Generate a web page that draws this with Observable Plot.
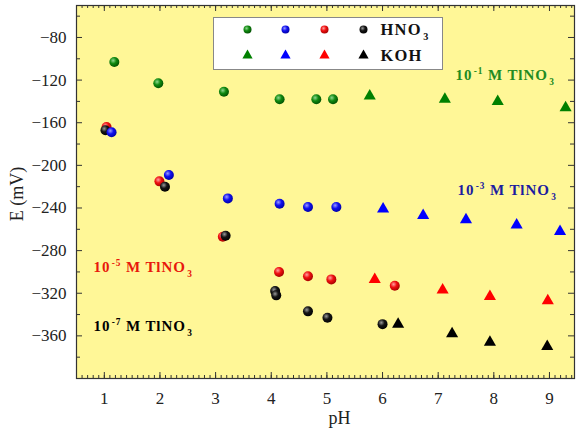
<!DOCTYPE html>
<html><head><meta charset="utf-8">
<script src="https://cdn.jsdelivr.net/npm/d3@7"></script>
<script src="https://cdn.jsdelivr.net/npm/@observablehq/plot@0.6"></script>
<style>body{margin:0;background:#fff}</style>
</head><body><div id="chart"></div>
<script>
// ---- data (pH, E in mV) ----
const pH_HNO3_1 = [1.18, 1.97, 3.15, 4.15, 4.81, 5.11];
const E_HNO3_1  = [-103, -123, -131, -138, -138, -138];
const pH_KOH_1  = [5.77, 7.12, 8.07, 9.29];
const E_KOH_1   = [-135, -138, -140, -146];

const pH_HNO3_3 = [1.13, 2.16, 3.22, 4.15, 4.66, 5.17];
const E_HNO3_3  = [-169, -209, -231, -236, -239, -239];
const pH_KOH_3  = [6.01, 6.73, 7.50, 8.41, 9.19];
const E_KOH_3   = [-241, -247, -251, -256, -262];

const pH_HNO3_5 = [1.04, 1.99, 3.13, 4.14, 4.66, 5.08, 6.22];
const E_HNO3_5  = [-164, -215, -267, -300, -304, -307, -313];
const pH_KOH_5  = [5.86, 7.08, 7.93, 8.97];
const E_KOH_5   = [-307, -317, -323, -327];

const pH_HNO3_7 = [1.02, 2.09, 3.18, 4.07, 4.09, 4.66, 5.01, 6.00];
const E_HNO3_7  = [-167, -220, -266, -318, -322, -337, -343, -349];
const pH_KOH_7  = [6.28, 7.25, 7.93, 8.96];
const E_KOH_7   = [-349, -358, -366, -370];

const seriesColors = ["#008000", "#0000ff", "#ff0000", "#000000"];
const labelColors  = ["#228b22", "#1c1ca0", "#e8180c", "#000000"];
const seriesLabels = ["10^{-1} M TlNO_{3}", "10^{-3} M TlNO_{3}", "10^{-5} M TlNO_{3}", "10^{-7} M TlNO_{3}"];
const legendRows   = ["HNO_{3}", "KOH"];
const xTicks = [1, 2, 3, 4, 5, 6, 7, 8, 9];
const yTicks = [-80, -120, -160, -200, -240, -280, -320, -360];
const yMinorTicks = [-60, -100, -140, -180, -220, -260, -300, -340, -380];
const xMinorTicks = d3.range(5, 95).map(d => d / 10);
const xLabel = "pH";
const yLabel = "E (mV)";

// ---- layout ----
const W = 576, H = 437, mL = 76, mR = 2, mT = 5, mB = 59;
const fw = W - mL - mR, fh = H - mT - mB;
const serif = "'Liberation Serif', 'Times New Roman', serif";

const rows = (xs, ys) => xs.map((p, i) => ({pH: p, E: ys[i]}));
const acid = [rows(pH_HNO3_1, E_HNO3_1), rows(pH_HNO3_3, E_HNO3_3), rows(pH_HNO3_5, E_HNO3_5), rows(pH_HNO3_7, E_HNO3_7)];
const base = [rows(pH_KOH_1, E_KOH_1), rows(pH_KOH_3, E_KOH_3), rows(pH_KOH_5, E_KOH_5), rows(pH_KOH_7, E_KOH_7)];
const drawOrder = [0, 2, 3, 1];

const labelPos = [[379, 70], [381, 185], [17, 262], [17, 321]];
const legendCols = [171, 209, 248, 287];
const legendRowY = [24, 50];

const marks = [
  Plot.frame({fill: "#fff797", stroke: "none"}),
  Plot.ruleX(xMinorTicks, {insetTop: fh - 3, stroke: "#333"}),
  Plot.ruleX(xMinorTicks, {insetBottom: fh - 3, stroke: "#333"}),
  Plot.ruleX(xTicks, {insetTop: fh - 6, stroke: "#333"}),
  Plot.ruleX(xTicks, {insetBottom: fh - 6, stroke: "#333"}),
  Plot.ruleY(yTicks, {insetRight: fw - 6, stroke: "#333"}),
  Plot.ruleY(yTicks, {insetLeft: fw - 6, stroke: "#333"}),
  Plot.ruleY(yMinorTicks, {insetRight: fw - 4, stroke: "#333"}),
  Plot.ruleY(yMinorTicks, {insetLeft: fw - 4, stroke: "#333"}),
  Plot.frame({stroke: "#333", strokeWidth: 1.2}),
  Plot.axisY(yTicks, {anchor: "left", tickSize: 0, tickPadding: 10, label: null, fontSize: 17, fill: "#222"}),
  Plot.axisX(xTicks, {anchor: "bottom", tickSize: 0, tickPadding: 13, label: null, fontSize: 17, fill: "#222"}),
  Plot.text([yLabel], {frameAnchor: "left", dx: -59, dy: 2, rotate: -90, textAnchor: "middle", fontSize: 18, fill: "#222"}),
  Plot.text([xLabel], {frameAnchor: "bottom", dx: 14, dy: 45, textAnchor: "middle", fontSize: 18, fill: "#222"}),
  // legend box
  Plot.frame({fill: "white", stroke: "#888", insetLeft: 137, insetTop: 12, insetRight: 132, insetBottom: 309}),
  ...seriesColors.flatMap((c, i) => [
    Plot.dot([0], {frameAnchor: "top-left", dx: legendCols[i], dy: legendRowY[0], r: 4, fill: `url(#ball${i})`}),
    Plot.dot([0], {frameAnchor: "top-left", dx: legendCols[i], dy: legendRowY[1], r: 3.8, symbol: "triangle", fill: c})
  ]),
  ...legendRows.map((t, j) => Plot.text([t], {frameAnchor: "top-left", dx: 304, dy: legendRowY[j], textAnchor: "start", lineAnchor: "middle", fontSize: 16.5, fontWeight: "bold", fill: "#111", className: "lg"})),
  // series labels
  ...seriesLabels.map((t, i) => Plot.text([t], {frameAnchor: "top-left", dx: labelPos[i][0], dy: labelPos[i][1], textAnchor: "start", lineAnchor: "middle", fontSize: 15, fontWeight: "bold", fill: labelColors[i], className: "sl"})),
  // data
  ...drawOrder.map(i => Plot.dot(base[i], {x: "pH", y: "E", r: 4.5, symbol: "triangle", fill: seriesColors[i]})),
  ...drawOrder.map(i => Plot.dot(acid[i], {x: "pH", y: "E", r: 5, fill: `url(#ball${i})`}))
];

const svg = Plot.plot({
  width: W, height: H,
  marginLeft: mL, marginRight: mR, marginTop: mT, marginBottom: mB,
  x: {domain: [0.5, 9.45]},
  y: {domain: [-400, -50]},
  style: {fontFamily: serif, fontSize: "16px", background: "white", overflow: "visible"},
  marks
});

// gradients for the shaded balls
const NS = "http://www.w3.org/2000/svg";
const defs = document.createElementNS(NS, "defs");
const ballStops = [
  ["#8fd88f", "#118a11", "#004d00"],
  ["#9a9aff", "#1010f0", "#0000a0"],
  ["#ffa0a0", "#f01010", "#a00000"],
  ["#9a9a9a", "#151515", "#000000"]
];
ballStops.forEach((s, i) => {
  const g = document.createElementNS(NS, "radialGradient");
  g.setAttribute("id", `ball${i}`);
  g.setAttribute("cx", "0.38"); g.setAttribute("cy", "0.35"); g.setAttribute("r", "0.7");
  [[0, s[0]], [0.45, s[1]], [1, s[2]]].forEach(([o, c]) => {
    const st = document.createElementNS(NS, "stop");
    st.setAttribute("offset", o); st.setAttribute("stop-color", c);
    g.appendChild(st);
  });
  defs.appendChild(g);
});
svg.insertBefore(defs, svg.firstChild);

// superscripts / subscripts
svg.querySelectorAll("text").forEach(el => {
  const s = el.textContent;
  if (!/[\^_]\{/.test(s)) return;
  const fs = parseFloat(el.closest("[font-size]")?.getAttribute("font-size")) || 14;
  el.textContent = "";
  const re = /(\^|_)\{([^}]*)\}|([^^_]+)/g;
  let m;
  while ((m = re.exec(s))) {
    const t = document.createElementNS(NS, "tspan");
    if (m[3] !== undefined) t.textContent = m[3];
    else {
      t.textContent = m[2];
      t.setAttribute("font-size", (fs * 0.62).toFixed(1));
      t.setAttribute("baseline-shift", m[1] === "^" ? (fs * 0.42).toFixed(1) : (-fs * 0.32).toFixed(1));
      t.setAttribute("dx", "1.5");
    }
    el.appendChild(t);
  }
});
svg.querySelectorAll("g.sl text").forEach(el => el.setAttribute("letter-spacing", "0.9"));
svg.querySelectorAll("g.lg text").forEach(el => el.setAttribute("letter-spacing", "1.2"));

document.getElementById("chart").appendChild(svg);
</script></body></html>
